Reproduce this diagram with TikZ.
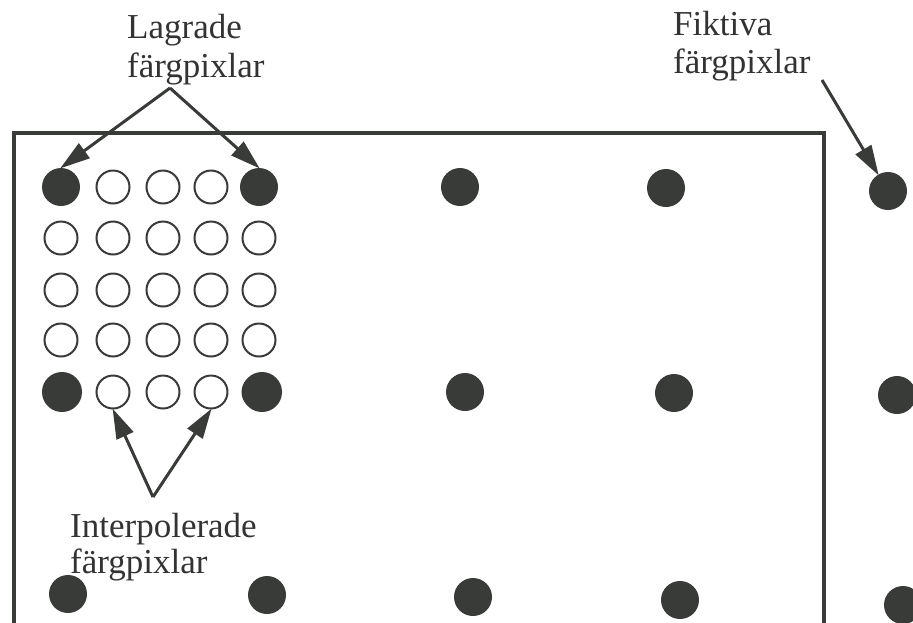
\documentclass[tikz,border=0pt]{standalone}
\usepackage{fontspec}
\setmainfont{Liberation Serif}
\usetikzlibrary{arrows.meta}
\definecolor{ink}{HTML}{383B38}
\definecolor{txt}{HTML}{333333}
\tikzset{
  full/.style={circle,fill=ink,draw=none,minimum size=38pt,inner sep=0pt},
  open/.style={circle,draw=ink,line width=2pt,fill=white,minimum size=33pt,inner sep=0pt},
  lbl/.style={anchor=base west,inner sep=0pt,text=txt,font=\fontsize{35}{39}\selectfont},
  pointer/.style={draw=ink,line width=3pt,-{Triangle[length=30pt,width=18pt]},shorten >=-1pt},
  frame/.style={draw=ink,line width=3.5pt}
}
\begin{document}
\begin{tikzpicture}[x=1pt,y=-1pt]
\useasboundingbox (0,0) rectangle (913,622);
% frame (open at bottom)
\draw[frame] (14,625) -- (14,133) -- (824,133) -- (824,625);
% 5x5 grid
\foreach \r/\y in {1/187,2/238,3/290,4/340,5/392}{
  \foreach \c/\x in {1/61,2/113,3/163,4/211,5/259}{
    \node[open] (g\r\c) at (\x,\y) {};
  }
}
\node[full] (g11) at (61,187) {};
\node[full] (g15) at (259,187) {};
\node[full,minimum size=40pt] (g51) at (62,392) {};
\node[full,minimum size=40pt] (g55) at (262,392) {};
% far dots
\node[full] (t2) at (460,187) {};
\node[full] (t3) at (666,188) {};
\node[full] (fk1) at (888,191) {};
\node[full] (m2) at (465,392) {};
\node[full] (m3) at (674,393) {};
\node[full] (m4) at (897,395) {};
\node[full] (b1) at (68,594) {};
\node[full] (b2) at (267,595) {};
\node[full] (b3) at (473,597) {};
\node[full] (b4) at (680,600) {};
\node[full] (b5) at (903,605) {};
% labels
\node[lbl] (lagA) at (127,38) {Lagrade};
\node[lbl] (lagB) at (127,77) {färgpixlar};
\node[lbl] (fikA) at (673,35) {Fiktiva};
\node[lbl] (fikB) at (673,73) {färgpixlar};
\node[lbl] (intA) at (70,537) {Interpolerade};
\node[lbl] (intB) at (70,573) {färgpixlar};
% connectors
\coordinate (lagfoot) at (170,88);
\coordinate (fikfoot) at (822,80);
\coordinate (intfoot) at (153,497);
\draw[pointer] (lagfoot) -- (g11.north);
\draw[pointer] (lagfoot) -- (g15.north);
\draw[pointer] (fikfoot) -- (fk1);
\draw[pointer] (intfoot) -- (g52.south);
\draw[pointer] (intfoot) -- (g54.south);
\end{tikzpicture}
\end{document}
